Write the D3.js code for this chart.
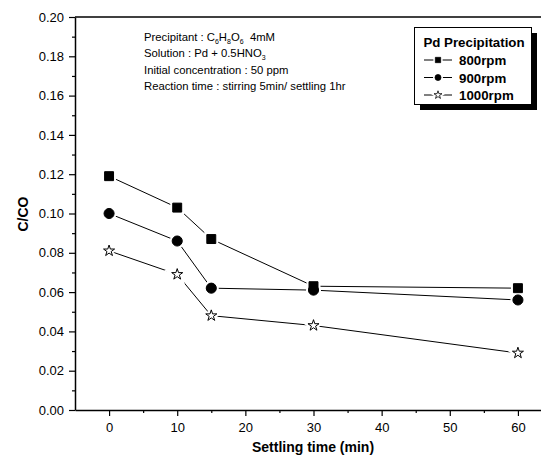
<!DOCTYPE html>
<html>
<head>
<meta charset="utf-8">
<script src="https://cdn.jsdelivr.net/npm/d3@7"></script>
<style>
  body { margin: 0; background: #fff; }
  svg { display: block; font-family: "Liberation Sans", Arial, sans-serif; }
</style>
</head>
<body>
<div id="chart-container"></div>
<script>
// Data
const times = [0, 10, 15, 30, 60];
const rpm800 = [0.119, 0.103, 0.087, 0.063, 0.062];
const rpm900 = [0.100, 0.086, 0.062, 0.061, 0.056];
const rpm1000 = [0.081, 0.069, 0.048, 0.043, 0.029];
const seriesNames = ["800rpm", "900rpm", "1000rpm"];
const xTicks = [0, 10, 20, 30, 40, 50, 60];
const yTicks = [0, 0.02, 0.04, 0.06, 0.08, 0.10, 0.12, 0.14, 0.16, 0.18, 0.20];

const width = 541, height = 464;
const margin = { top: 17, left: 75, bottom: 54 };

const svg = d3.select('#chart-container').append('svg')
  .attr('width', width)
  .attr('height', height);

// Scales (plot box runs past the right edge of the picture)
const xScale = d3.scaleLinear().domain([-5, 65]).range([margin.left, 552]);
const yScale = d3.scaleLinear().domain([0, 0.2]).range([height - margin.bottom, margin.top]);

// Box top line
svg.append('line')
  .attr('x1', xScale(-5)).attr('x2', xScale(65))
  .attr('y1', yScale(0.2)).attr('y2', yScale(0.2))
  .attr('stroke', '#000').attr('stroke-width', 1.5);

// Minor ticks
svg.append('g')
  .attr('transform', `translate(0,${yScale(0)})`)
  .call(d3.axisBottom(xScale).tickValues([5, 15, 25, 35, 45, 55]).tickSize(3).tickFormat(''))
  .call(g => g.select('.domain').remove());
svg.append('g')
  .attr('transform', `translate(${xScale(-5)},0)`)
  .call(d3.axisLeft(yScale).tickValues(d3.range(0.01, 0.2, 0.02)).tickSize(3).tickFormat(''))
  .call(g => g.select('.domain').remove());

// Major axes
const xAxis = svg.append('g')
  .attr('transform', `translate(0,${yScale(0)})`)
  .call(d3.axisBottom(xScale).tickValues(xTicks).tickSize(6).tickSizeOuter(0).tickPadding(7));
const yAxis = svg.append('g')
  .attr('transform', `translate(${xScale(-5)},0)`)
  .call(d3.axisLeft(yScale).tickValues(yTicks).tickSize(6).tickSizeOuter(0).tickPadding(5)
    .tickFormat(d3.format('.2f')));

[xAxis, yAxis].forEach(a => {
  a.selectAll('text').attr('font-size', 13).attr('fill', '#000')
    .attr('font-family', '"Liberation Sans", Arial, sans-serif');
  a.select('.domain').attr('stroke-width', 1.5);
});
svg.selectAll('.tick line').attr('stroke-width', 1.2);

// Axis titles
svg.append('text')
  .attr('x', 313).attr('y', 452)
  .attr('text-anchor', 'middle')
  .attr('font-size', 14).attr('font-weight', 'bold')
  .text('Settling time (min)');
svg.append('text')
  .attr('transform', `translate(28,214) rotate(-90)`)
  .attr('text-anchor', 'middle')
  .attr('font-size', 14).attr('font-weight', 'bold')
  .text('C/CO');

// Series
const series = [rpm800, rpm900, rpm1000];
const symbols = [d3.symbolSquare, d3.symbolCircle, d3.symbolStar];
const symSizes = [80, 80, 38];
const fills = ['#000', '#000', '#fff'];

const line = d3.line()
  .x((d, i) => xScale(times[i]))
  .y(d => yScale(d));

const lineLayer = svg.append('g');
const haloLayer = svg.append('g');
const markLayer = svg.append('g');

series.forEach((s, k) => {
  lineLayer.append('path')
    .datum(s)
    .attr('d', line)
    .attr('fill', 'none')
    .attr('stroke', '#000')
    .attr('stroke-width', 1);
  // white halo gives the gap between line and marker
  haloLayer.selectAll('.h' + k)
    .data(s)
    .enter().append('path')
    .attr('class', 'h' + k)
    .attr('d', d3.symbol().type(symbols[k]).size(symSizes[k]))
    .attr('transform', (d, i) => `translate(${xScale(times[i])},${yScale(d)})`)
    .attr('fill', '#fff')
    .attr('stroke', '#fff')
    .attr('stroke-width', 5);
  markLayer.selectAll('.m' + k)
    .data(s)
    .enter().append('path')
    .attr('class', 'm' + k)
    .attr('d', d3.symbol().type(symbols[k]).size(symSizes[k]))
    .attr('transform', (d, i) => `translate(${xScale(times[i])},${yScale(d)})`)
    .attr('fill', fills[k])
    .attr('stroke', '#000')
    .attr('stroke-width', 1);
});

// Annotation text
const note = svg.append('g').attr('font-size', 11.3);
const t1 = note.append('text').attr('x', 144).attr('y', 41);
t1.append('tspan').text('Precipitant : C');
t1.append('tspan').attr('font-size', 7).attr('dy', 3).text('6');
t1.append('tspan').attr('dy', -3).text('H');
t1.append('tspan').attr('font-size', 7).attr('dy', 3).text('8');
t1.append('tspan').attr('dy', -3).text('O');
t1.append('tspan').attr('font-size', 7).attr('dy', 3).text('6');
t1.append('tspan').attr('dy', -3).text('\u00a0 4mM');
const t2 = note.append('text').attr('x', 144).attr('y', 57);
t2.append('tspan').text('Solution : Pd + 0.5HNO');
t2.append('tspan').attr('font-size', 7).attr('dy', 3).text('3');
note.append('text').attr('x', 144).attr('y', 74).text('Initial concentration : 50 ppm');
note.append('text').attr('x', 144).attr('y', 90).text('Reaction time : stirring 5min/ settling 1hr');

// Legend
const lg = svg.append('g');
lg.append('rect').attr('x', 420).attr('y', 33).attr('width', 117).attr('height', 77).attr('fill', '#000');
lg.append('rect').attr('x', 414.5).attr('y', 27.5).attr('width', 117).attr('height', 77)
  .attr('fill', '#fff').attr('stroke', '#000').attr('stroke-width', 1);
lg.append('text').attr('x', 474).attr('y', 47).attr('text-anchor', 'middle')
  .attr('font-size', 13.3).attr('font-weight', 'bold').text('Pd Precipitation');
seriesNames.forEach((name, k) => {
  const y = 60 + k * 17.5;
  lg.append('line').attr('x1', 424).attr('x2', 452).attr('y1', y).attr('y2', y)
    .attr('stroke', '#000').attr('stroke-width', 1);
  const sym = d3.symbol().type(symbols[k]).size(k === 2 ? 20 : 28);
  lg.append('path')
    .attr('d', sym)
    .attr('transform', `translate(438,${y})`)
    .attr('fill', '#fff').attr('stroke', '#fff').attr('stroke-width', 4);
  lg.append('path')
    .attr('d', sym)
    .attr('transform', `translate(438,${y})`)
    .attr('fill', fills[k]).attr('stroke', '#000').attr('stroke-width', 0.8);
  lg.append('text').attr('x', 459).attr('y', y + 5)
    .attr('font-size', 13.3).attr('font-weight', 'bold').text(name);
});
</script>
</body>
</html>
